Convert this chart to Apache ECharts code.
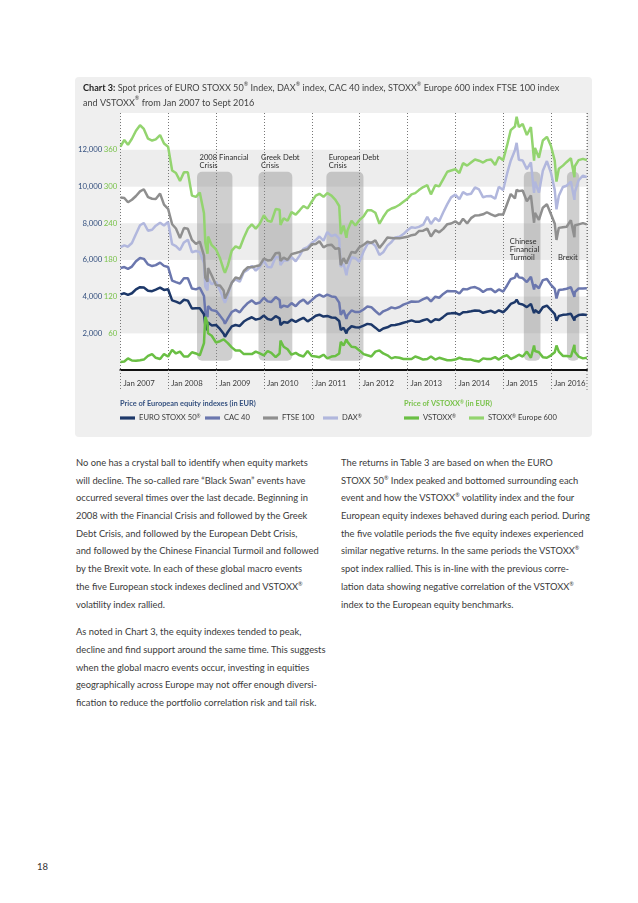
<!DOCTYPE html>
<html>
<head>
<meta charset="utf-8">
<script src="https://cdn.jsdelivr.net/npm/echarts@6/dist/echarts.min.js"></script>
<style>
  html, body { margin:0; padding:0; background:#fff; }
  body { width:638px; height:903px; position:relative; overflow:hidden; font-family: Lato, "Noto Sans", sans-serif; color:#3a3a3a; }
  #panel { position:absolute; left:75px; top:77px; width:517px; height:360px; background:#efefef; border-radius:4px; }
  #chart { position:absolute; left:75px; top:77px; width:517px; height:360px; }
  .col { position:absolute; top:454px; font-size:9.35px; }
  .col div { height:17.7px; line-height:17.7px; white-space:nowrap; }
  .col .gap { height:10px; }
  sup { font-size:5.5px; vertical-align:top; line-height:12px; }
  #pnum { position:absolute; left:37px; top:861px; font-size:9.5px; color:#333; }
</style>
</head>
<body>
<div id="panel"></div>
<div id="chart"></div>

<div class="col" style="left:76px;">
  <div>No one has a crystal ball to identify when equity markets</div>
  <div>will decline. The so-called rare “Black Swan” events have</div>
  <div>occurred several times over the last decade. Beginning in</div>
  <div>2008 with the Financial Crisis and followed by the Greek</div>
  <div>Debt Crisis, and followed by the European Debt Crisis,</div>
  <div>and followed by the Chinese Financial Turmoil and followed</div>
  <div>by the Brexit vote. In each of these global macro events</div>
  <div>the five European stock indexes declined and VSTOXX<sup>®</sup></div>
  <div>volatility index rallied.</div>
  <div class="gap"></div>
  <div>As noted in Chart 3, the equity indexes tended to peak,</div>
  <div>decline and find support around the same time. This suggests</div>
  <div>when the global macro events occur, investing in equities</div>
  <div>geographically across Europe may not offer enough diversi-</div>
  <div>fication to reduce the portfolio correlation risk and tail risk.</div>
</div>

<div class="col" style="left:341px;">
  <div>The returns in Table 3 are based on when the EURO</div>
  <div>STOXX 50<sup>®</sup> Index peaked and bottomed surrounding each</div>
  <div>event and how the VSTOXX<sup>®</sup> volatility index and the four</div>
  <div>European equity indexes behaved during each period. During</div>
  <div>the five volatile periods the five equity indexes experienced</div>
  <div>similar negative returns. In the same periods the VSTOXX<sup>®</sup></div>
  <div>spot index rallied. This is in-line with the previous corre-</div>
  <div>lation data showing negative correlation of the VSTOXX<sup>®</sup></div>
  <div>index to the European equity benchmarks.</div>
</div>

<div id="pnum">18</div>

<script>
// ---------------- DATA ----------------
const dates = [
 '2007-01-02',
 '2007-01-31','2007-02-28','2007-03-30','2007-04-30','2007-05-31','2007-06-29','2007-07-31','2007-08-31','2007-09-28','2007-10-31','2007-11-30','2007-12-31',
 '2008-01-31','2008-02-29','2008-03-31','2008-04-30','2008-05-30','2008-06-30','2008-07-31','2008-08-29','2008-09-30','2008-10-10','2008-10-27','2008-10-31','2008-11-28','2008-12-31',
 '2009-01-30','2009-02-27','2009-03-09','2009-03-31','2009-04-30','2009-05-29','2009-06-30','2009-07-31','2009-08-31','2009-09-30','2009-10-30','2009-11-30','2009-12-31',
 '2010-01-29','2010-02-26','2010-03-31','2010-04-30','2010-05-07','2010-05-31','2010-06-30','2010-07-30','2010-08-31','2010-09-30','2010-10-29','2010-11-30','2010-12-31',
 '2011-01-31','2011-02-28','2011-03-31','2011-04-29','2011-05-31','2011-06-30','2011-07-29','2011-08-10','2011-08-31','2011-09-22','2011-09-30','2011-10-31','2011-11-30','2011-12-30',
 '2012-01-31','2012-02-29','2012-03-30','2012-04-30','2012-05-31','2012-06-29','2012-07-31','2012-08-31','2012-09-28','2012-10-31','2012-11-30','2012-12-31',
 '2013-01-31','2013-02-28','2013-03-28','2013-04-30','2013-05-31','2013-06-28','2013-07-31','2013-08-30','2013-09-30','2013-10-31','2013-11-29','2013-12-31',
 '2014-01-31','2014-02-28','2014-03-31','2014-04-30','2014-05-30','2014-06-30','2014-07-31','2014-08-29','2014-09-30','2014-10-31','2014-11-28','2014-12-31',
 '2015-01-30','2015-02-27','2015-03-31','2015-04-13','2015-04-30','2015-05-29','2015-06-30','2015-07-31','2015-08-24','2015-08-31','2015-09-30','2015-10-30','2015-11-30','2015-12-31',
 '2016-01-29','2016-02-11','2016-02-29','2016-03-31','2016-04-29','2016-05-31','2016-06-27','2016-06-30','2016-07-29','2016-08-31','2016-09-30'
];

const euroStoxx50 = [
 4120,
 4178,4088,4181,4393,4512,4489,4315,4294,4381,4490,4362,4400,
 3792,3724,3628,3826,3778,3352,3367,3366,3038,2450,2166,2591,2430,2451,
 2237,1976,1810,2071,2375,2451,2401,2639,2775,2873,2743,2797,2966,
 2776,2729,2931,2817,2450,2610,2574,2742,2623,2748,2845,2650,2793,
 2954,3013,2911,2945,2862,2849,2670,2174,2302,1995,2180,2385,2330,2317,
 2416,2512,2477,2306,2119,2265,2325,2440,2455,2503,2575,2636,
 2703,2634,2624,2712,2770,2603,2768,2721,2893,3068,3086,3109,
 3013,3149,3162,3198,3245,3229,3116,3173,3226,3114,3251,3146,
 3351,3599,3697,3828,3616,3570,3424,3601,3097,3270,3101,3418,3506,3268,
 3045,2680,2946,3005,3028,3063,2698,2865,2991,3023,3002
];

const cac40 = [
 5560,
 5609,5512,5634,5924,6105,6055,5752,5662,5715,5850,5671,5614,
 4870,4790,4707,4996,4996,4435,4392,4482,4032,3176,2881,3488,3262,3218,
 2962,2693,2519,2807,3159,3278,3140,3426,3654,3795,3607,3680,3936,
 3739,3708,3974,3817,3392,3508,3443,3643,3477,3715,3833,3610,3805,
 4006,4110,3989,4107,4006,3982,3672,3002,3256,2781,2982,3243,3155,3160,
 3298,3453,3424,3213,3017,3197,3291,3414,3355,3429,3558,3641,
 3733,3723,3731,3856,3949,3739,3993,3934,4143,4299,4295,4296,
 4166,4408,4392,4487,4519,4423,4246,4381,4416,4233,4390,4273,
 4604,4951,5034,5268,5046,5008,4790,5082,4383,4653,4455,4898,4957,4637,
 4417,3896,4354,4385,4429,4506,3985,4237,4440,4438,4448
];

const ftse100 = [
 9400,
 9367,9135,9273,9480,9733,9846,9413,9328,9312,9612,9005,8782,
 7938,7709,7185,7730,7689,7089,6873,6990,6226,5030,4815,5559,5147,4611,
 4607,4328,3896,4240,4753,5037,4971,5391,5596,5596,5650,5710,6063,
 5967,5998,6362,6386,5942,6122,5999,6310,6375,6437,6526,6578,6844,
 6860,7013,6677,6798,6829,6600,6629,5706,6096,5797,5948,6431,6386,6686,
 6818,6988,6922,7058,6651,6908,7213,7196,7178,7171,7216,7255,
 7344,7379,7566,7587,7702,7272,7614,7503,7690,7943,7981,8099,
 7942,8240,7984,8272,8419,8430,8480,8593,8477,8379,8471,8470,
 9044,9587,9347,9819,9745,9778,9195,9508,8021,8560,8184,8842,9026,8489,
 7970,7087,7743,7781,7803,8163,7238,7870,7934,8003,7934
];

const dax = [
 6690,
 6789,6716,6917,7409,7883,8007,7584,7638,7862,8020,7871,8067,
 6852,6748,6535,6949,7097,6418,6480,6422,5831,4544,4335,4988,4669,4810,
 4338,3843,3666,4085,4770,4941,4809,5332,5465,5675,5414,5625,5957,
 5608,5598,6154,6136,5715,5965,5966,6148,5925,6229,6601,6688,6914,
 7077,7272,7041,7514,7294,7376,7159,5614,5785,5164,5502,6141,6089,5898,
 6458,6856,6947,6761,6264,6416,6772,6970,7216,7260,7406,7612,
 7776,7742,7795,7914,8349,7959,8276,8103,8594,9033,9406,9552,
 9306,9692,9556,9603,9943,9833,9407,9470,9474,9327,9980,9806,
 10694,11402,11966,12375,11454,11414,10945,11309,9648,10259,9660,10850,11382,10743,
 9798,8752,9495,9966,10039,10263,9268,9680,10337,10593,10511
];

const vstoxx = [
 13,
 14,19,15.5,15,16,17,23,26,20,18,26,22,
 33,27,30,22,22,29,27,24,44,87,76,60,56,45,
 47,50,50,44,37,32,32,26,26,26,30,27,24,
 31,28,21,27,48,38,34,25,28,24,22,31,23,
 22,21,25,19,22,23,27,46,40,50,46,38,37,32,
 26,24,22,30,32,27,24,19,21,20,18,18,
 18,22,20,17,18,22,17,20,18,16,16,17,
 20,18,17,17,15,14,19,18,18,21,17,22,
 24,18,21,19,25,22,30,20,40,31,29,21,20,24,
 29,40,30,23,23,22,41,30,22,19,20
];

const stoxxEurope600 = [
 365,
 376,368,378,391,400,394,378,375,377,384,370,365,
 326,322,309,323,323,285,283,290,256,208,190,218,204,197,
 183,164,159,171,195,202,199,216,231,238,231,239,253,
 244,242,263,262,237,248,244,258,254,261,268,264,275,
 285,288,283,289,285,278,268,222,236,216,228,244,236,245,
 251,261,261,257,239,250,260,264,266,270,275,280,
 287,289,294,299,302,287,302,300,312,324,326,328,
 322,338,334,339,344,342,339,343,344,335,348,343,
 367,392,398,414,397,402,384,397,342,363,347,375,381,366,
 342,308,329,334,340,346,315,333,343,345,343
];

// crisis periods
const crisisNames = ['2008 Financial\nCrisis', 'Greek Debt\nCrisis', 'European Debt\nCrisis', 'Chinese\nFinancial\nTurmoil', 'Brexit'];
const crisisStart = ['2008-08-08', '2009-11-20', '2011-04-22', '2015-06-07', '2016-05-01'];
const crisisEnd   = ['2009-05-05', '2010-08-05', '2012-01-30', '2015-10-12', '2016-08-03'];
const crisisTop = 10800, crisisBottom = 500;

// axis ticks
const leftTicks = [2000, 4000, 6000, 8000, 10000, 12000];
const rightTicks = [60, 120, 180, 240, 300, 360];

// ---------------- LAYOUT / STYLE ----------------
const FONT = 'Lato, "Noto Sans", sans-serif';
// label offsets (px) relative to each box's top-left corner: [dx, dy, anchor]
const crisisLabelLayout = [
  [2.5, -2, 'bottom'], [2.5, -2, 'bottom'], [2.5, -2, 'bottom'],
  [-14, 66, 'top'], [-9, 82, 'top']
];
const seriesDefs = [
  {name:'DAX®', data:dax, color:'#b1b7dd', y:0},
  {name:'FTSE 100', data:ftse100, color:'#8f8f8f', y:0},
  {name:'CAC 40', data:cac40, color:'#6b77ae', y:0},
  {name:'EURO STOXX 50®', data:euroStoxx50, color:'#1d3869', y:0},
  {name:'STOXX® Europe 600', data:stoxxEurope600, color:'#93d46f', y:1},
  {name:'VSTOXX®', data:vstoxx, color:'#6abf44', y:1}
];
const legendItems = [
  ['EURO STOXX 50®', 45], ['CAC 40', 130], ['FTSE 100', 188], ['DAX®', 248],
  ['VSTOXX®', 329], ['STOXX® Europe 600', 394]
];
const sup = s => s.replace(/®/g, '{s|®}');

const chart = echarts.init(document.getElementById('chart'), null, {renderer:'canvas'});

const crisisData = crisisStart.map((s, i) => [+new Date(s), +new Date(crisisEnd[i]), i]);

const series = [{
  type: 'custom',
  name: 'crisis',
  xAxisIndex: 0, yAxisIndex: 0,
  clip: false,
  silent: true,
  z: 1,
  dimensions: [{name:'s', type:'time'}, {name:'e', type:'time'}, {name:'i', type:'int'}],
  encode: {x: [0, 1], y: -1},
  data: crisisData,
  renderItem: function (params, api) {
    const i = api.value(2);
    const p0 = api.coord([api.value(0), crisisTop]);
    const p1 = api.coord([api.value(1), crisisBottom]);
    const lay = crisisLabelLayout[i];
    const children = [{
      type: 'rect',
      shape: {x: p0[0], y: p0[1], width: p1[0] - p0[0], height: p1[1] - p0[1], r: 5},
      style: {fill: 'rgba(140,140,140,0.42)'}
    }, {
      type: 'text',
      x: p0[0] + lay[0], y: p0[1] + lay[1],
      style: {text: crisisNames[i], fill: '#2e2e2e', font: '7.6px ' + FONT,
              lineHeight: 8, verticalAlign: lay[2], align: 'left'}
    }];
    if (i === 0) {
      const cs = params.coordSys;
      children.push({
        type: 'line',
        shape: {x1: cs.x + cs.width, y1: cs.y, x2: cs.x + cs.width, y2: cs.y + cs.height + 20},
        style: {stroke: '#777', lineWidth: 1, lineDash: [1, 2]}
      });
    }
    return {type: 'group', children: children};
  }
}];

seriesDefs.forEach(d => {
  series.push({
    type: 'line', name: d.name, yAxisIndex: d.y,
    data: dates.map((t, i) => [t, d.data[i]]),
    showSymbol: false, symbol: 'none',
    lineStyle: {width: 2.5, color: d.color},
    itemStyle: {color: d.color},
    z: 3
  });
});

const legends = legendItems.map(([name, left]) => ({
  data: [name], left: left, top: 337,
  icon: 'rect', itemWidth: 15, itemHeight: 3.2, itemGap: 0,
  selectedMode: false,
  padding: 0,
  formatter: n => sup(n),
  textStyle: {fontSize: 7.6, color: '#3a3a3a', fontFamily: FONT, padding: [0, 0, 0, -1],
    rich: {s: {fontSize: 4.8, color: '#3a3a3a', fontFamily: FONT, verticalAlign: 'top', lineHeight: 8}}}
}));

chart.setOption({
  animation: false,
  textStyle: {fontFamily: FONT},
  title: {
    left: 8, top: 4, padding: 0,
    text: '{b|Chart 3:} ' + sup('Spot prices of EURO STOXX 50® Index, DAX® index, CAC 40 index, STOXX® Europe 600 index FTSE 100 index') +
          '\n' + sup('and VSTOXX® from Jan 2007 to Sept 2016'),
    textStyle: {fontSize: 9.1, fontWeight: 'normal', color: '#444', lineHeight: 14.5, fontFamily: FONT,
      rich: {b: {fontSize: 9.1, fontWeight: 'bold', color: '#222', fontFamily: FONT, lineHeight: 14.5},
             s: {fontSize: 5.5, color: '#444', fontFamily: FONT, verticalAlign: 'top', lineHeight: 12}}}
  },
  graphic: [
    {type: 'text', left: 45, top: 323, style: {text: 'Price of European equity indexes (in EUR)', fill: '#34507f', font: 'bold 7.4px ' + FONT}},
    {type: 'text', left: 329, top: 323, style: {text: 'Price of VSTOXX{s|®} (in EUR)', fill: '#79c24a', font: 'bold 7.4px ' + FONT,
      rich: {s: {fontSize: 4.6, fill: '#79c24a', fontWeight: 'bold', fontFamily: FONT, verticalAlign: 'top', lineHeight: 8}}}}
  ],
  legend: legends,
  grid: {left: 45, right: 5, top: 36, bottom: 67},
  xAxis: {
    type: 'time',
    min: '2007-01-01', max: '2016-10-01',
    splitNumber: 10,
    axisLine: {show: true, lineStyle: {color: '#111', width: 2}},
    axisTick: {show: true, length: 19, lineStyle: {color: '#777', type: [1, 2], width: 1}},
    splitLine: {show: true, lineStyle: {color: '#777', type: [1, 2], width: 1}},
    axisLabel: {
      color: '#3a3a3a', fontSize: 7.8, fontFamily: FONT, align: 'left', margin: 9,
      padding: [0, 0, 0, 3],
      showMinLabel: true, showMaxLabel: false,
      formatter: v => 'Jan ' + new Date(v).getFullYear()
    }
  },
  yAxis: [{
    type: 'value', min: 0, max: 14000, interval: 2000, position: 'left', offset: 15,
    axisLine: {show: false}, axisTick: {show: false}, splitLine: {show: false},
    splitArea: {show: true, areaStyle: {color: ['#ffffff', '#ededed']}},
    axisLabel: {color: '#34507f', fontSize: 7.8, fontFamily: FONT, margin: 3,
      formatter: v => leftTicks.includes(v) ? v.toLocaleString('en-US') : ''}
  }, {
    type: 'value', min: 0, max: 420, interval: 60, position: 'left', offset: 0,
    axisLine: {show: false}, axisTick: {show: false}, splitLine: {show: false}, splitArea: {show: false},
    axisLabel: {color: '#79c24a', fontSize: 7.8, fontFamily: FONT, margin: 3,
      formatter: v => rightTicks.includes(v) ? String(v) : ''}
  }],
  series: series
});
</script>
</body>
</html>
